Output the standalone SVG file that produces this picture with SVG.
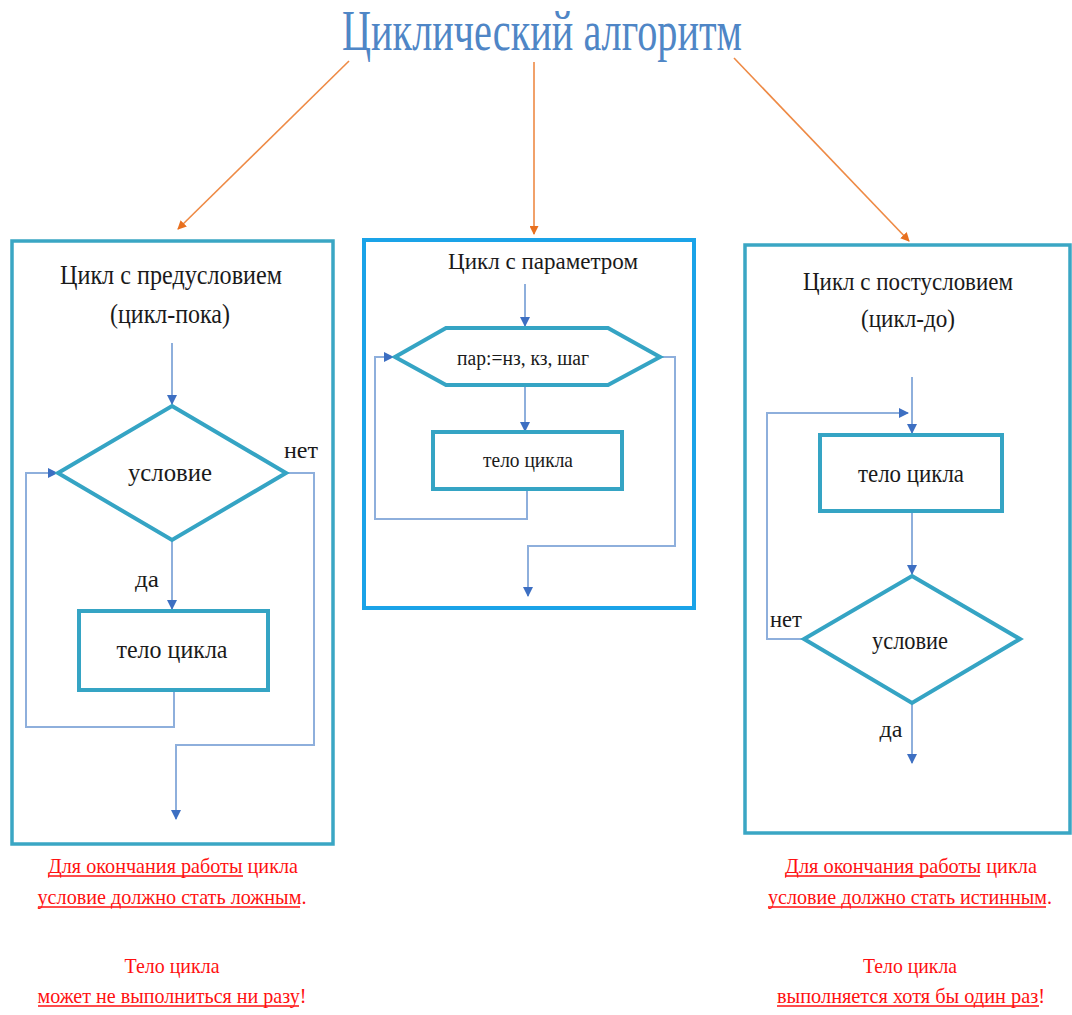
<svg xmlns="http://www.w3.org/2000/svg" width="1072" height="1015" viewBox="0 0 1072 1015">
<defs>
<style>
.frame{fill:none;stroke:#3aa6c4;stroke-width:3.5}
.frame2{fill:none;stroke:#1aa3e8;stroke-width:4}
.shape{fill:#fff;stroke:#35a4c4;stroke-width:4}
.conn{fill:none;stroke:#8eafdc;stroke-width:2}
.orange{fill:none;stroke:#ee8a45;stroke-width:1.6}
.t{font-family:'Liberation Serif','Times New Roman',serif;fill:#1a1a1a;text-anchor:middle}
.r{font-family:'Liberation Serif','Times New Roman',serif;fill:#ff1010;text-anchor:middle;font-size:21px}
.ul{stroke:#ff1010;stroke-width:1.3}
</style>
<marker id="ab" markerWidth="10" markerHeight="10" refX="9" refY="5" orient="auto" markerUnits="userSpaceOnUse">
<path d="M0,0 L10,5 L0,10 z" fill="#3d6fc2"/>
</marker>
<marker id="ao" markerWidth="9" markerHeight="9" refX="8" refY="4.5" orient="auto" markerUnits="userSpaceOnUse">
<path d="M0,0 L9,4.5 L0,9 z" fill="#e8701f"/>
</marker>
</defs>
<rect width="1072" height="1015" fill="#fff"/>

<g id="title">
<text x="542" y="50" font-family="'Liberation Serif','Times New Roman',serif" font-size="56" fill="#4f86c6" text-anchor="middle" textLength="400" lengthAdjust="spacingAndGlyphs">Циклический алгоритм</text>
</g>

<g id="connectors">
<line class="orange" x1="349" y1="61" x2="178" y2="229" marker-end="url(#ao)"/>
<line class="orange" x1="534" y1="62" x2="534" y2="234" marker-end="url(#ao)"/>
<line class="orange" x1="734" y1="58" x2="909" y2="241" marker-end="url(#ao)"/>

<line class="conn" x1="172" y1="343" x2="172" y2="404" marker-end="url(#ab)"/>
<line class="conn" x1="172" y1="541" x2="172" y2="609" marker-end="url(#ab)"/>
<polyline class="conn" points="174,691 174,727 26,727 26,473 57,473" marker-end="url(#ab)"/>
<polyline class="conn" points="286,473 314,473 314,745 176,745 176,819" marker-end="url(#ab)"/>

<line class="conn" x1="525" y1="284" x2="525" y2="326" marker-end="url(#ab)"/>
<line class="conn" x1="525" y1="386" x2="525" y2="431" marker-end="url(#ab)"/>
<polyline class="conn" points="527,490 527,519 375,519 375,357 393,357" marker-end="url(#ab)"/>
<polyline class="conn" points="661,357 675,357 675,546 528,546 528,596" marker-end="url(#ab)"/>

<line class="conn" x1="912" y1="377" x2="912" y2="433" marker-end="url(#ab)"/>
<polyline class="conn" points="804,639 767,639 767,413 908,413" marker-end="url(#ab)"/>
<line class="conn" x1="912" y1="512" x2="912" y2="574" marker-end="url(#ab)"/>
<line class="conn" x1="912" y1="704" x2="912" y2="763" marker-end="url(#ab)"/>
</g>

<g id="box-pre">
<rect class="frame" x="12" y="241" width="321" height="603"/>
<text class="t" x="171" y="284" font-size="27" textLength="222" lengthAdjust="spacingAndGlyphs">Цикл с предусловием</text>
<text class="t" x="170" y="323" font-size="27" textLength="120" lengthAdjust="spacingAndGlyphs">(цикл-пока)</text>
</g>
<g id="cond-pre">
<polygon class="shape" points="172,406 286,473 172,540 58,473"/>
<text class="t" x="170" y="481" font-size="26" textLength="84" lengthAdjust="spacingAndGlyphs">условие</text>
<text class="t" x="301" y="458" font-size="24" textLength="34" lengthAdjust="spacingAndGlyphs">нет</text>
<text class="t" x="147" y="587" font-size="24" textLength="24" lengthAdjust="spacingAndGlyphs">да</text>
</g>
<g id="body-pre">
<rect class="shape" x="79" y="611" width="189" height="79"/>
<text class="t" x="172" y="658" font-size="26" textLength="111" lengthAdjust="spacingAndGlyphs">тело цикла</text>
</g>

<g id="box-param">
<rect class="frame2" x="364" y="240" width="330" height="368"/>
<text class="t" x="543" y="269" font-size="24" textLength="190" lengthAdjust="spacingAndGlyphs">Цикл с параметром</text>
</g>
<g id="hex-param">
<polygon class="shape" points="446,328 608,328 660,357 608,385 446,385 395,357"/>
<text class="t" x="523" y="365" font-size="20" textLength="132" lengthAdjust="spacingAndGlyphs">пар:=нз, кз, шаг</text>
</g>
<g id="body-param">
<rect class="shape" x="433" y="432" width="189" height="57"/>
<text class="t" x="528" y="467" font-size="22" textLength="90" lengthAdjust="spacingAndGlyphs">тело цикла</text>
</g>

<g id="box-post">
<rect class="frame" x="745" y="245" width="325" height="588"/>
<text class="t" x="908" y="290" font-size="26" textLength="210" lengthAdjust="spacingAndGlyphs">Цикл с постусловием</text>
<text class="t" x="908" y="327" font-size="26" textLength="94" lengthAdjust="spacingAndGlyphs">(цикл-до)</text>
</g>
<g id="body-post">
<rect class="shape" x="820" y="435" width="182" height="76"/>
<text class="t" x="911" y="482" font-size="26" textLength="106" lengthAdjust="spacingAndGlyphs">тело цикла</text>
</g>
<g id="cond-post">
<polygon class="shape" points="912,576 1020,639 912,703 804,639"/>
<text class="t" x="910" y="649" font-size="25" textLength="76" lengthAdjust="spacingAndGlyphs">условие</text>
<text class="t" x="786" y="627" font-size="23" textLength="32" lengthAdjust="spacingAndGlyphs">нет</text>
<text class="t" x="891" y="737" font-size="23" textLength="23" lengthAdjust="spacingAndGlyphs">да</text>
</g>

<g id="note-pre">
<text class="r" x="173" y="873" textLength="250" lengthAdjust="spacingAndGlyphs">Для окончания работы цикла</text>
<line class="ul" x1="48" y1="876" x2="243" y2="876"/>
<text class="r" x="172" y="904" textLength="269" lengthAdjust="spacingAndGlyphs">условие должно стать ложным.</text>
<line class="ul" x1="38" y1="907" x2="300" y2="907"/>
<text class="r" x="172" y="973" textLength="95" lengthAdjust="spacingAndGlyphs">Тело цикла</text>
<text class="r" x="172" y="1003" textLength="269" lengthAdjust="spacingAndGlyphs">может не выполниться ни разу!</text>
<line class="ul" x1="38" y1="1006" x2="299" y2="1006"/>
</g>

<g id="note-post">
<text class="r" x="911" y="873" textLength="252" lengthAdjust="spacingAndGlyphs">Для окончания работы цикла</text>
<line class="ul" x1="785" y1="876" x2="980" y2="876"/>
<text class="r" x="910" y="904" textLength="284" lengthAdjust="spacingAndGlyphs">условие должно стать истинным.</text>
<line class="ul" x1="768" y1="907" x2="1046" y2="907"/>
<text class="r" x="910" y="973" textLength="94" lengthAdjust="spacingAndGlyphs">Тело цикла</text>
<text class="r" x="911" y="1003" textLength="268" lengthAdjust="spacingAndGlyphs">выполняется хотя бы один раз!</text>
<line class="ul" x1="777" y1="1006" x2="1039" y2="1006"/>
</g>
</svg>
